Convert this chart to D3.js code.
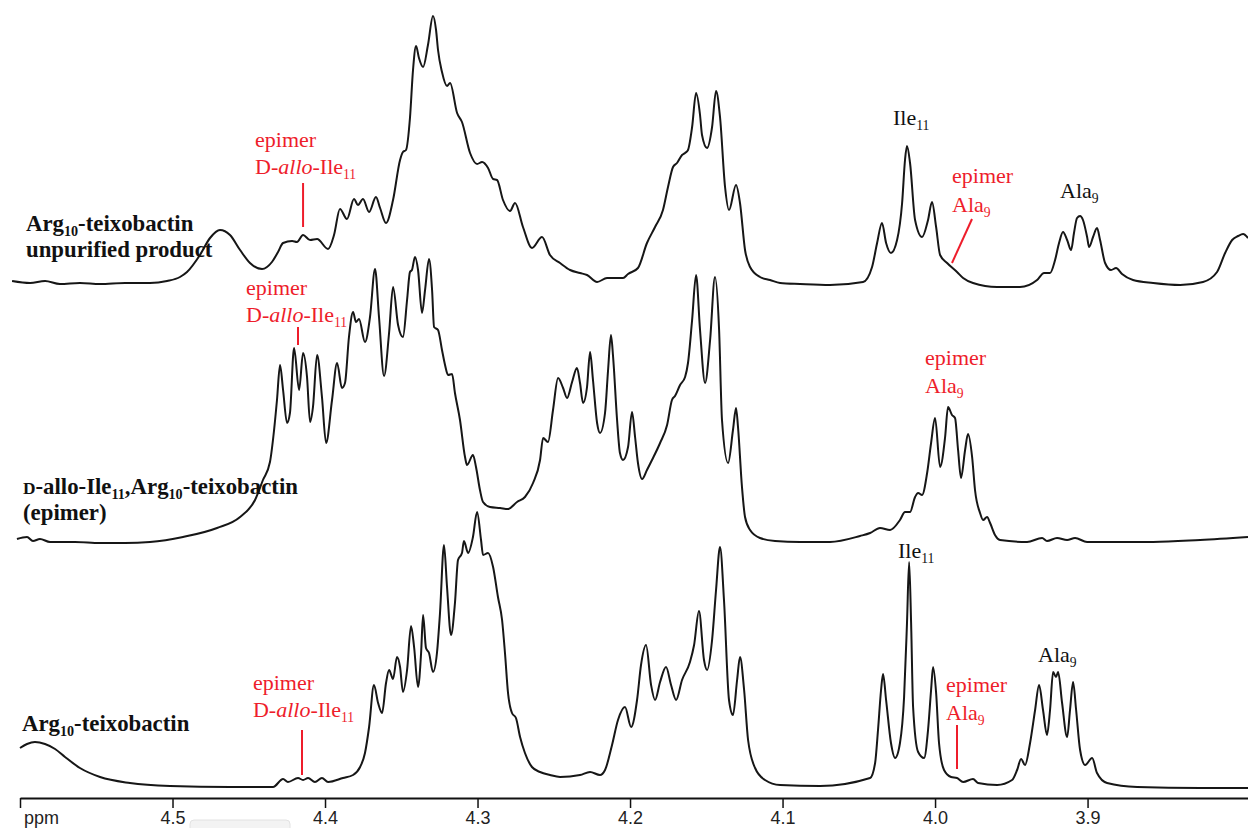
<!DOCTYPE html>
<html>
<head>
<meta charset="utf-8">
<script src="https://cdn.jsdelivr.net/npm/d3@7"></script>
<style>
  html, body { margin: 0; padding: 0; background: #fff; }
  svg { display: block; }
</style>
</head>
<body>
<svg id="chart" width="1248" height="828"></svg>
<script>
// ---- 1H NMR traces: chemical shift (ppm) and intensity (a.u.) ----
const ppmTicks = [4.5, 4.4, 4.3, 4.2, 4.1, 4.0, 3.9];

// Arg10-teixobactin, unpurified product
const unpurifiedPpm = [
  4.6052,4.5934,4.5836,4.5738,4.5607,4.5475,4.5311,4.5148,4.5036,4.4951,
  4.4905,4.4820,4.4754,4.4689,4.4623,4.4557,4.4492,4.4413,4.4348,4.4308,
  4.4275,4.4216,4.4184,4.4144,4.4098,4.4052,4.3980,4.3941,4.3902,4.3856,
  4.3810,4.3784,4.3751,4.3711,4.3666,4.3639,4.3600,4.3554,4.3508,4.3489,
  4.3469,4.3443,4.3423,4.3403,4.3384,4.3357,4.3325,4.3292,4.3272,4.3259,
  4.3233,4.3200,4.3180,4.3134,4.3102,4.3049,4.3003,4.2970,4.2931,4.2898,
  4.2872,4.2833,4.2787,4.2754,4.2702,4.2643,4.2577,4.2525,4.2459,4.2393,
  4.2328,4.2282,4.2216,4.2151,4.2046,4.2013,4.1948,4.1889,4.1836,4.1784,
  4.1751,4.1718,4.1692,4.1659,4.1639,4.1620,4.1593,4.1567,4.1541,4.1528,
  4.1495,4.1462,4.1436,4.1410,4.1377,4.1351,4.1305,4.1279,4.1246,4.1213,
  4.1148,4.1082,4.1016,4.0885,4.0689,4.0472,4.0413,4.0380,4.0348,4.0321,
  4.0289,4.0249,4.0216,4.0197,4.0184,4.0164,4.0131,4.0085,4.0046,4.0020,
  3.9993,3.9967,3.9921,3.9856,3.9816,3.9751,3.9593,3.9443,3.9331,3.9285,
  3.9246,3.9213,3.9187,3.9161,3.9134,3.9108,3.9089,3.9069,3.9049,3.9030,
  3.9003,3.8990,3.8964,3.8938,3.8918,3.8885,3.8846,3.8813,3.8774,3.8702,
  3.8570,3.8393,3.8243,3.8151,3.8098,3.8052,3.8013,3.7980,3.7948
];
const unpurifiedInt = [
  4,2,4,1,2,1,2,2,4,8,
  13,30,47,55,50,35,22,16,23,33,
  42,44,43,50,45,46,36,50,76,66,
  86,80,86,73,88,77,62,85,125,133,
  135,167,215,239,227,218,240,269,255,235,
  213,199,202,172,163,132,121,123,117,106,
  105,85,74,82,58,37,48,30,22,15,
  12,10,3,7,7,11,17,42,58,75,
  98,118,122,130,132,135,158,192,170,150,
  137,158,194,168,98,75,100,82,35,18,
  8,5,2,1,0,3,18,42,62,42,
  32,45,82,125,139,122,65,48,65,83,
  58,30,22,13,7,2,-2,-2,5,12,
  12,25,42,53,45,35,52,67,69,65,
  48,38,48,57,45,22,15,17,11,5,
  2,0,3,13,32,45,49,51,47
];

// D-allo-Ile11,Arg10-teixobactin (epimer)
const epimerPpm = [
  4.6020,4.5954,4.5915,4.5869,4.5803,4.5639,4.5475,4.5311,4.5148,4.4931,
  4.4708,4.4557,4.4459,4.4407,4.4361,4.4334,4.4315,4.4295,4.4275,4.4249,
  4.4230,4.4203,4.4170,4.4144,4.4118,4.4098,4.4079,4.4052,4.4020,4.3993,
  4.3954,4.3921,4.3889,4.3869,4.3843,4.3816,4.3797,4.3777,4.3738,4.3705,
  4.3672,4.3646,4.3613,4.3580,4.3554,4.3521,4.3489,4.3462,4.3443,4.3430,
  4.3410,4.3390,4.3364,4.3344,4.3318,4.3298,4.3285,4.3259,4.3233,4.3213,
  4.3193,4.3167,4.3148,4.3115,4.3082,4.3069,4.3030,4.3010,4.2984,4.2964,
  4.2918,4.2852,4.2800,4.2741,4.2689,4.2636,4.2590,4.2570,4.2538,4.2505,
  4.2472,4.2439,4.2413,4.2380,4.2348,4.2328,4.2308,4.2282,4.2262,4.2243,
  4.2216,4.2197,4.2164,4.2144,4.2125,4.2111,4.2085,4.2066,4.2046,4.2013,
  4.1987,4.1967,4.1948,4.1921,4.1889,4.1856,4.1803,4.1757,4.1725,4.1705,
  4.1672,4.1639,4.1620,4.1593,4.1567,4.1541,4.1508,4.1475,4.1443,4.1416,
  4.1397,4.1357,4.1325,4.1305,4.1292,4.1266,4.1246,4.1213,4.1148,4.1049,
  4.0885,4.0689,4.0492,4.0426,4.0361,4.0295,4.0230,4.0197,4.0164,4.0131,
  4.0111,4.0085,4.0052,4.0026,4.0000,3.9967,3.9934,3.9915,3.9889,3.9869,
  3.9849,3.9830,3.9803,3.9784,3.9757,3.9738,3.9705,3.9685,3.9659,3.9639,
  3.9607,3.9574,3.9397,3.9298,3.9266,3.9200,3.9134,3.9082,3.9003,3.8787,
  3.8570,3.8262,3.7948
];
const epimerInt = [
  4,6,2,4,1,1,0,0,1,6,
  15,26,43,63,81,113,143,178,153,120,
  130,195,153,190,166,121,136,188,146,100,
  143,180,155,160,206,231,221,224,201,226,
  274,226,167,210,256,218,206,243,271,273,
  286,273,230,253,284,253,216,213,193,178,
  168,169,150,123,86,78,88,76,53,41,
  36,35,34,41,46,60,83,105,101,133,
  165,155,145,161,175,160,140,156,191,163,
  120,110,130,173,208,186,123,90,83,96,
  131,106,80,64,73,83,100,118,143,147,
  158,166,180,223,268,213,160,203,266,213,
  123,80,113,135,116,56,26,13,5,2,
  1,1,7,10,15,13,23,31,31,46,
  50,48,70,100,125,76,106,136,128,125,
  93,65,93,109,86,53,30,23,26,20,
  8,3,1,5,2,5,3,5,1,1,
  1,3,6
];

// Arg10-teixobactin, purified
const purifiedPpm = [
  4.6000,4.5954,4.5902,4.5836,4.5770,4.5705,4.5607,4.5475,4.5279,4.5016,
  4.4623,4.4341,4.4275,4.4243,4.4177,4.4144,4.4111,4.4066,4.4020,4.3980,
  4.3882,4.3816,4.3770,4.3738,4.3711,4.3679,4.3652,4.3626,4.3600,4.3580,
  4.3554,4.3528,4.3508,4.3489,4.3462,4.3436,4.3416,4.3390,4.3370,4.3357,
  4.3338,4.3318,4.3292,4.3266,4.3246,4.3220,4.3200,4.3174,4.3148,4.3128,
  4.3102,4.3089,4.3062,4.3030,4.3003,4.2977,4.2964,4.2931,4.2898,4.2866,
  4.2839,4.2820,4.2800,4.2774,4.2748,4.2721,4.2689,4.2643,4.2590,4.2525,
  4.2459,4.2328,4.2262,4.2197,4.2164,4.2118,4.2079,4.2033,4.1993,4.1954,
  4.1928,4.1895,4.1862,4.1836,4.1803,4.1764,4.1731,4.1698,4.1659,4.1607,
  4.1580,4.1548,4.1515,4.1495,4.1462,4.1436,4.1410,4.1384,4.1351,4.1325,
  4.1298,4.1279,4.1252,4.1226,4.1180,4.1115,4.1016,4.0754,4.0426,4.0393,
  4.0374,4.0354,4.0341,4.0321,4.0289,4.0262,4.0230,4.0203,4.0184,4.0170,
  4.0157,4.0144,4.0111,4.0072,4.0046,4.0026,4.0013,3.9993,3.9974,3.9941,
  3.9895,3.9856,3.9816,3.9751,3.9718,3.9593,3.9495,3.9462,3.9436,3.9410,
  3.9377,3.9344,3.9318,3.9292,3.9266,3.9246,3.9226,3.9207,3.9193,3.9167,
  3.9134,3.9115,3.9095,3.9075,3.9049,3.9016,3.8970,3.8938,3.8872,3.8675,
  3.8262,3.7948
];
const purifiedInt = [
  39,43,45,43,38,30,19,10,4,1,
  0,0,8,5,9,7,9,5,9,5,
  9,12,20,34,60,102,84,74,104,117,
  108,130,120,95,117,161,140,100,134,172,
  139,134,115,134,174,242,200,152,184,227,
  234,246,234,250,275,247,232,234,220,190,
  167,134,94,74,69,50,34,20,15,12,
  10,12,15,12,17,42,67,80,60,87,
  122,142,102,87,105,120,102,87,107,125,
  142,176,127,117,147,197,240,187,87,72,
  107,130,97,47,19,7,2,1,9,24,
  57,97,113,87,44,29,44,90,164,225,
  164,80,35,29,57,97,120,94,44,17,
  10,9,5,8,4,2,7,17,28,22,
  44,77,102,77,52,77,115,110,115,84,
  50,77,105,77,37,22,29,14,4,0,
  -1,-1
];

// sample names (bold, left side)
const sampleNames = [
  [[{t: 'Arg'}, {t: '10', sub: true}, {t: '-teixobactin'}], [{t: 'unpurified product'}]],
  [[{t: 'D', sc: true}, {t: '-allo-Ile'}, {t: '11', sub: true}, {t: ',Arg'}, {t: '10', sub: true}, {t: '-teixobactin'}], [{t: '(epimer)'}]],
  [[{t: 'Arg'}, {t: '10', sub: true}, {t: '-teixobactin'}]]
];

// ---- layout ----
const W = 1248, H = 828;
const RED = '#ee1d2b';
const SERIF = '"Liberation Serif", "Times New Roman", Times, serif';
const SANS_NARROW = '"Liberation Sans Narrow", "Liberation Sans", Arial, sans-serif';

const svg = d3.select('#chart');
svg.append('rect').attr('width', W).attr('height', H).attr('fill', '#fff');

const x = d3.scaleLinear().domain([4.6, 3.7948]).range([20, 1248]);

const spectra = [
  {ppm: unpurifiedPpm, val: unpurifiedInt, base: 285},
  {ppm: epimerPpm, val: epimerInt, base: 543},
  {ppm: purifiedPpm, val: purifiedInt, base: 787}
];

spectra.forEach(s => {
  const y = d3.scaleLinear().domain([0, 300]).range([s.base, s.base - 300]);
  const pts = s.ppm.map((p, i) => [p, s.val[i]]);
  const line = d3.line()
    .x(d => x(d[0]))
    .y(d => y(d[1]))
    .curve(d3.curveMonotoneX);
  svg.append('path')
    .datum(pts)
    .attr('d', line)
    .attr('fill', 'none')
    .attr('stroke', '#161616')
    .attr('stroke-width', 2)
    .attr('stroke-linejoin', 'round');
});

// text with subscripts / italics / small caps
function richText(px, py, parts, opt) {
  const size = opt.size;
  const t = svg.append('text')
    .attr('x', px).attr('y', py)
    .attr('font-family', SERIF)
    .attr('font-size', size)
    .attr('font-weight', opt.weight || 'normal')
    .attr('fill', opt.color || '#111');
  let shift = 0;
  parts.forEach(p => {
    const s = t.append('tspan').text(p.t);
    let dy = 0;
    if (p.sub) {
      s.attr('font-size', size * 0.62);
      dy = size * 0.22 - shift; shift = size * 0.22;
    } else if (shift) {
      dy = -shift; shift = 0;
    }
    if (dy) s.attr('dy', dy);
    if (p.it) s.attr('font-style', 'italic');
    if (p.sc) s.attr('font-size', size * 0.76);
  });
  return t;
}

// sample names
const namePos = [[26, 231], [23, 494], [22, 731]];
sampleNames.forEach((lines, i) => {
  lines.forEach((parts, j) => {
    richText(namePos[i][0], namePos[i][1] + j * 26, parts, {size: 22.8, weight: 'bold', color: '#111'});
  });
});

// annotations
const epimerIle = [{t: 'D-'}, {t: 'allo', it: true}, {t: '-Ile'}, {t: '11', sub: true}];
const ala = [{t: 'Ala'}, {t: '9', sub: true}];
const ile = [{t: 'Ile'}, {t: '11', sub: true}];

function marker(x1, y1, x2, y2) {
  svg.append('line')
    .attr('x1', x1).attr('y1', y1).attr('x2', x2).attr('y2', y2)
    .attr('stroke', RED).attr('stroke-width', 2);
}

// epimer D-allo-Ile11 markers
[
  {ppm: 4.4144, top: 147, y1: 183, y2: 227, dx: -48},
  {ppm: 4.4177, top: 295, y1: 327, y2: 345, dx: -52},
  {ppm: 4.4151, top: 690, y1: 730, y2: 775, dx: -49}
].forEach(m => {
  const mx = x(m.ppm);
  richText(mx + m.dx, m.top, [{t: 'epimer'}], {size: 22, color: RED});
  richText(mx + m.dx, m.top + 27, epimerIle, {size: 22, color: RED});
  marker(mx, m.y1, mx, m.y2);
});

// epimer Ala9
richText(952, 183, [{t: 'epimer'}], {size: 22, color: RED});
richText(952, 212, ala, {size: 22, color: RED});
marker(972, 219, x(3.9889), 263);

richText(925, 365, [{t: 'epimer'}], {size: 22, color: RED});
richText(925, 393, ala, {size: 22, color: RED});

richText(946, 692, [{t: 'epimer'}], {size: 22, color: RED});
richText(946, 720, ala, {size: 22, color: RED});
marker(x(3.9856), 725, x(3.9856), 769);

// assigned multiplets
richText(893, 125, ile, {size: 22, color: '#111'});
richText(1060, 198, ala, {size: 22, color: '#111'});
richText(898, 558, ile, {size: 22, color: '#111'});
richText(1038, 662, ala, {size: 22, color: '#111'});

// ---- ppm axis ----
const axis = d3.axisBottom(x)
  .tickValues([4.6].concat(ppmTicks))
  .tickSize(10)
  .tickSizeOuter(0)
  .tickFormat(d => d === 4.6 ? '' : d3.format('.1f')(d));

const gAxis = svg.append('g')
  .attr('transform', 'translate(0,798)')
  .call(axis);
gAxis.select('.domain').attr('stroke', '#111').attr('stroke-width', 2);
gAxis.selectAll('.tick line').attr('stroke', '#111').attr('stroke-width', 1.5);
gAxis.selectAll('.tick text')
  .attr('font-family', SANS_NARROW)
  .attr('font-size', 18)
  .attr('fill', '#222');

svg.append('text')
  .attr('x', 24).attr('y', 824)
  .attr('font-family', SANS_NARROW)
  .attr('font-size', 18)
  .attr('fill', '#222')
  .text('ppm');

// faint scroll handle under the axis
svg.append('rect')
  .attr('x', 190).attr('y', 820).attr('width', 100).attr('height', 14).attr('rx', 4)
  .attr('fill', '#f3f3f3').attr('stroke', '#e2e2e2');
</script>
</body>
</html>
